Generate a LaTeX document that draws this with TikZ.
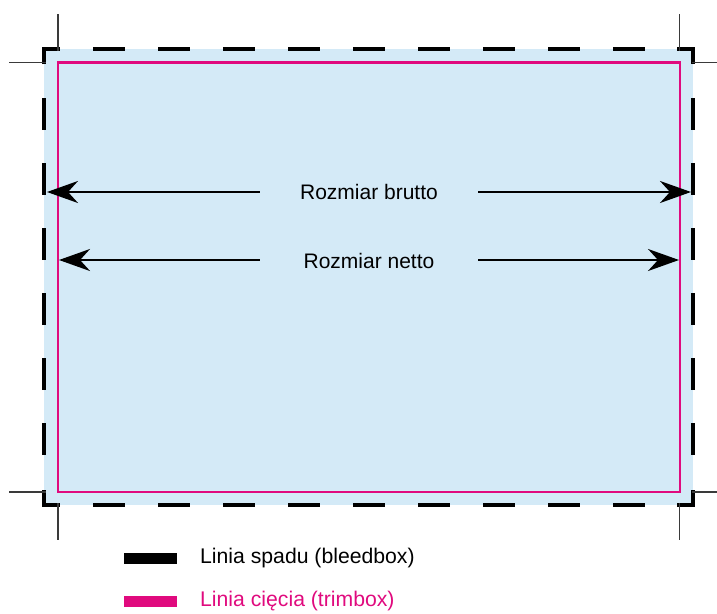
\documentclass[tikz,border=0pt]{standalone}
\usepackage{fontspec}
\setmainfont{Liberation Sans}
\usetikzlibrary{arrows.meta}
\definecolor{bleedblue}{HTML}{D4EAF7}
\definecolor{trimmag}{HTML}{E00A7E}
\definecolor{cropgray}{HTML}{3A3A3A}
\begin{document}
\begin{tikzpicture}[x=1pt,y=-1pt,
  bleed/.style={line width=3.2pt,black},
  bleeddash/.style={bleed,dash pattern=on 32pt off 33pt},
  corner/.style={bleed,line join=miter,line cap=butt},
  trim/.style={line width=2.6pt,trimmag},
  crop/.style={line width=1.2pt,cropgray},
  dimarrow/.style={line width=2.2pt,black,-{Stealth[length=31pt,width=22pt,inset=10pt]}},
  dimlabel/.style={font=\fontsize{21}{25}\selectfont,minimum width=218pt,inner sep=0pt,align=center},
  legtext/.style={font=\fontsize{21.2}{25}\selectfont,anchor=west,inner sep=0pt}]
\useasboundingbox (0,0) rectangle (717,613);
% background fill
\fill[bleedblue] (44,49) rectangle (693,505);
% trim box
\draw[trim] (58,62.5) rectangle (680,492);
% bleed box dashes
\draw[bleeddash] (93,49) -- (645,49);
\draw[bleeddash] (93,505) -- (645,505);
\draw[bleeddash] (44,98) -- (44,455);
\draw[bleeddash] (693,98) -- (693,455);
% bleed corners
\draw[corner] (44,64) -- (44,49) -- (60,49);
\draw[corner] (677,49) -- (693,49) -- (693,64);
\draw[corner] (44,490) -- (44,505) -- (60,505);
\draw[corner] (677,505) -- (693,505) -- (693,490);
% crop marks
\draw[crop] (58,14) -- (58,51);
\draw[crop] (9,62.5) -- (46,62.5);
\draw[crop] (679.5,14) -- (679.5,51);
\draw[crop] (692,62.5) -- (717,62.5);
\draw[crop] (9,492) -- (46,492);
\draw[crop] (58,503) -- (58,540);
\draw[crop] (692,492) -- (717,492);
\draw[crop] (679.5,503) -- (679.5,540);
% dimension arrows
\node[dimlabel] (brutto) at (369,192) {Rozmiar brutto};
\node[dimlabel] (netto) at (369,261) {Rozmiar netto};
\coordinate (bL) at (47,192);
\coordinate (bR) at (691,192);
\coordinate (nL) at (59,260);
\coordinate (nR) at (679,260);
\draw[dimarrow] (brutto.west) -- (bL);
\draw[dimarrow] (brutto.east) -- (bR);
\draw[dimarrow] (netto.west |- nL) -- (nL);
\draw[dimarrow] (netto.east |- nR) -- (nR);
% legend
\fill[black] (124,553) rectangle (177,563.5) coordinate (lk1);
\fill[trimmag] (124,596) rectangle (177,606.5) coordinate (lk2);
\node[legtext] (leg1) at (200,558) {Linia spadu (bleedbox)};
\node[legtext,text=trimmag] (leg2) at (200,601) {Linia cięcia (trimbox)};
\end{tikzpicture}
\end{document}
